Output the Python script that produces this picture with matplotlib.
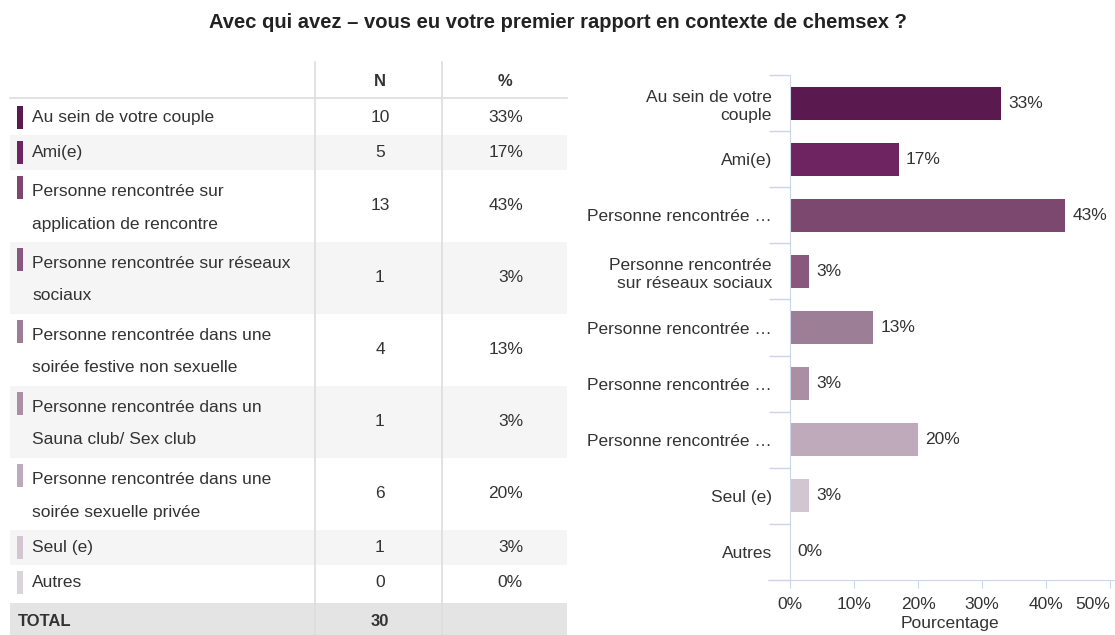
import matplotlib.pyplot as plt
from matplotlib.patches import Rectangle

plt.rcParams['font.family'] = ['Liberation Sans', 'DejaVu Sans']

# donnees
table_labels = ["Au sein de votre couple", "Ami(e)",
                "Personne rencontrée sur\napplication de rencontre",
                "Personne rencontrée sur réseaux\nsociaux",
                "Personne rencontrée dans une\nsoirée festive non sexuelle",
                "Personne rencontrée dans un\nSauna club/ Sex club",
                "Personne rencontrée dans une\nsoirée sexuelle privée",
                "Seul (e)", "Autres"]
chart_labels = ["Au sein de votre\ncouple", "Ami(e)", "Personne rencontrée …",
                "Personne rencontrée\nsur réseaux sociaux", "Personne rencontrée …",
                "Personne rencontrée …", "Personne rencontrée …", "Seul (e)", "Autres"]
counts = [10, 5, 13, 1, 4, 1, 6, 1, 0]
pct = [33, 17, 43, 3, 13, 3, 20, 3, 0]
total = 30
colors = ["#5b1a4f", "#6d2461", "#7c4870", "#8a587e", "#9c7e96",
          "#a98ea4", "#beaaba", "#d2c7d0", "#dcd4db"]
title = "Avec qui avez – vous eu votre premier rapport en contexte de chemsex ?"

W, H = 1115, 635
fig = plt.figure(figsize=(W / 100, H / 100), dpi=100)
txt = "#333333"
fs = 12.5

# ---- tableau (coordonnees pixel)
tab = fig.add_axes([0, 0, 1, 1])
tab.set_xlim(0, W)
tab.set_ylim(H, 0)
tab.axis("off")

x0, x1 = 10, 567
c1, c2 = 315, 442
line_h, row2_h = 35, 72
y = 100
tab.text(380, 82, "N", ha="center", va="center", fontsize=fs - 0.5, fontweight="bold", color=txt)
tab.text(505, 82, "%", ha="center", va="center", fontsize=fs - 0.5, fontweight="bold", color=txt)
tab.plot([x0, x1], [98, 98], color="#dddddd", lw=1.2)
for i, lab in enumerate(table_labels):
    lines = lab.split("\n")
    h = line_h if len(lines) == 1 else row2_h
    if i % 2 == 1:
        tab.add_patch(Rectangle((x0, y), x1 - x0, h, color="#f5f5f5", lw=0, zorder=0))
    tab.add_patch(Rectangle((17, y + 6), 6, 23, color=colors[i], lw=0))
    if len(lines) == 1:
        tab.text(32, y + 17.5, lines[0], ha="left", va="center", fontsize=fs, color=txt)
    else:
        for j, ln in enumerate(lines):
            tab.text(32, y + 22 + j * 32, ln, ha="left", va="center", fontsize=fs, color=txt)
    tab.text(380, y + h / 2, str(counts[i]), ha="center", va="center", fontsize=fs, color=txt)
    tab.text(523, y + h / 2, f"{pct[i]}%", ha="right", va="center", fontsize=fs, color=txt)
    y += h
y += 3
tab.add_patch(Rectangle((x0, y), x1 - x0, H - y, color="#e4e4e4", lw=0, zorder=0))
tab.text(18, y + 18, "TOTAL", ha="left", va="center", fontsize=fs - 0.5, fontweight="bold", color=txt)
tab.text(380, y + 18, str(total), ha="center", va="center", fontsize=fs - 0.5, fontweight="bold", color=txt)
for cx in (c1, c2):
    tab.plot([cx, cx], [62, H], color="#dddddd", lw=1.2)

fig.text(0.5, 1 - 22 / H, title, ha="center", va="center", fontsize=14.5, fontweight="bold", color="#222222")

# ---- graphique
ax = fig.add_axes([790 / W, 1 - 580 / H, (1110 - 790) / W, (580 - 75) / H])
ypos = list(range(len(pct)))
ax.barh(ypos, pct, height=0.59, color=colors, zorder=2)
for yy, v in zip(ypos, pct):
    ax.text(v + 1.1, yy, f"{v}%", va="center", ha="left", fontsize=fs, color=txt)
ax.set_ylim(len(pct) - 0.5, -0.5)
ax.set_xlim(0, 50)
ax.set_yticks(ypos)
ax.set_yticklabels(chart_labels, fontsize=fs, color=txt, linespacing=1.25)
ax.tick_params(axis="y", length=0, pad=13)
ax.set_yticks([i + 0.5 for i in range(-1, len(pct))], minor=True)
ax.tick_params(axis="y", which="minor", length=15, color="#ccd6eb", width=1)
ax.set_xticks(range(0, 51, 10))
ax.set_xticklabels([f"{t}%" for t in range(0, 51, 10)], fontsize=fs, color=txt)
ax.get_xticklabels()[-1].set_horizontalalignment("right")
ax.get_xticklabels()[-1].set_x(50.7)
ax.tick_params(axis="x", length=6, color="#ccd6eb", pad=6)
ax.set_xlabel("Pourcentage", fontsize=fs, color=txt, labelpad=3)
for s in ("top", "right"):
    ax.spines[s].set_visible(False)
ax.spines["left"].set_color("#ccd6eb")
ax.spines["bottom"].set_color("#ccd6eb")
ax.spines["bottom"].set_bounds(-3.5, 52)
ax.patch.set_alpha(0)

fig.savefig("out.png", dpi=100)
